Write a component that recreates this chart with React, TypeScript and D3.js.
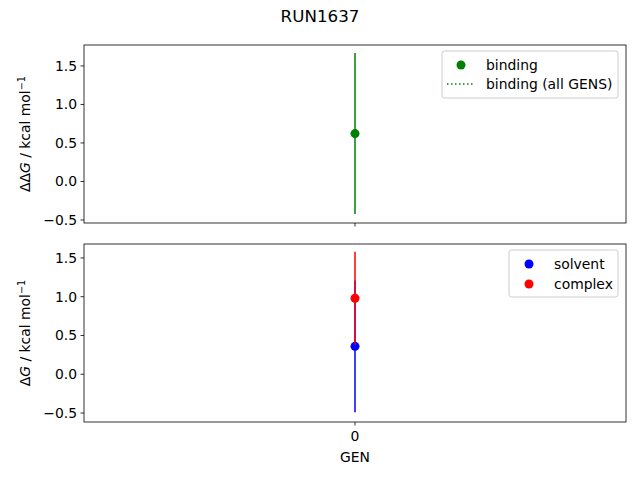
import { useEffect, useRef } from 'react';
import * as d3 from 'd3';

// values
const gens = ['0'];
const bindingValues = [0.622];
const bindingErrors = [1.045];
const solventValues = [0.36];
const solventErrors = [0.85];
const complexValues = [0.98];
const complexErrors = [0.6];
const yTicks = [-0.5, 0, 0.5, 1.0, 1.5];

const W = 640;
const H = 480;
const FONT = 'DejaVu Sans, sans-serif';
const FS = 13.9;

export default function App() {
  const svgRef = useRef<SVGSVGElement>(null);

  useEffect(() => {
    if (!svgRef.current) return;
    const svg = d3.select(svgRef.current);
    svg.selectAll('*').remove();
    svg.attr('width', W).attr('height', H).style('font-family', FONT);

    svg.append('rect').attr('width', W).attr('height', H).attr('fill', '#fff');

    const left = 84;
    const right = 626;

    const x = d3.scalePoint<string>().domain(gens).range([left, right]).padding(0.5);

    svg.append('text')
      .attr('x', W / 2).attr('y', 22)
      .attr('text-anchor', 'middle')
      .attr('font-size', 16.7)
      .text('RUN1637');

    const fmt = (v: number) => d3.format('.1f')(v).replace('-', '\u2212');

    function panel(top: number, bottom: number, domain: [number, number], label: string, showX: boolean) {
      const y = d3.scaleLinear().domain(domain).range([bottom, top]);
      const g = svg.append('g');

      // y ticks
      yTicks.forEach(t => {
        const yy = y(t);
        g.append('line').attr('x1', left - 3.5).attr('x2', left).attr('y1', yy).attr('y2', yy)
          .attr('stroke', '#000').attr('stroke-width', 0.8);
        g.append('text').attr('x', left - 7).attr('y', yy).attr('dy', '0.35em')
          .attr('text-anchor', 'end').attr('font-size', FS).text(fmt(t));
      });

      // x ticks
      gens.forEach(gn => {
        const xx = x(gn)!;
        g.append('line').attr('x1', xx).attr('x2', xx).attr('y1', bottom).attr('y2', bottom + 3.5)
          .attr('stroke', '#000').attr('stroke-width', 0.8);
        if (showX) {
          g.append('text').attr('x', xx).attr('y', bottom + 19)
            .attr('text-anchor', 'middle').attr('font-size', FS).text(gn);
        }
      });

      // y label
      const cy = (top + bottom) / 2;
      const lt = g.append('text')
        .attr('transform', `translate(${30},${cy}) rotate(-90)`)
        .attr('text-anchor', 'middle').attr('font-size', FS);
      lt.append('tspan').text(label);
      lt.append('tspan').attr('font-style', 'italic').text('G');
      lt.append('tspan').text(' / kcal mol');
      lt.append('tspan').attr('dy', -5).attr('font-size', FS * 0.7).text('\u22121');

      return { g, y };
    }

    // top panel
    const p1 = panel(45, 223, [-0.539, 1.772], '\u0394\u0394', false);
    gens.forEach((gn, i) => {
      const xx = x(gn)!;
      p1.g.append('line').attr('x1', xx).attr('x2', xx)
        .attr('y1', p1.y(bindingValues[i] - bindingErrors[i]))
        .attr('y2', p1.y(bindingValues[i] + bindingErrors[i]))
        .attr('stroke', 'green').attr('stroke-width', 1.5);
      p1.g.append('circle').attr('cx', xx).attr('cy', p1.y(bindingValues[i])).attr('r', 4.5).attr('fill', 'green');
    });
    svg.append('rect').attr('x', left).attr('y', 45).attr('width', right - left).attr('height', 178)
      .attr('fill', 'none').attr('stroke', '#000').attr('stroke-width', 0.8);

    // top legend
    const l1 = svg.append('g');
    l1.append('rect').attr('x', 442).attr('y', 51).attr('width', 176).attr('height', 47).attr('rx', 2.5)
      .attr('fill', '#fff').attr('fill-opacity', 0.8).attr('stroke', '#ccc').attr('stroke-width', 1);
    l1.append('circle').attr('cx', 461).attr('cy', 65).attr('r', 4.5).attr('fill', 'green');
    l1.append('text').attr('x', 486).attr('y', 65).attr('dy', '0.35em').attr('font-size', FS).text('binding');
    l1.append('line').attr('x1', 447).attr('x2', 475).attr('y1', 84).attr('y2', 84)
      .attr('stroke', 'green').attr('stroke-width', 1.5).attr('stroke-dasharray', '1.5,2.5');
    l1.append('text').attr('x', 486).attr('y', 84).attr('dy', '0.35em').attr('font-size', FS).text('binding (all GENS)');

    // bottom panel
    const p2 = panel(244, 422, [-0.616, 1.68], '\u0394', true);
    gens.forEach((gn, i) => {
      const xx = x(gn)!;
      p2.g.append('line').attr('x1', xx).attr('x2', xx)
        .attr('y1', p2.y(solventValues[i] - solventErrors[i]))
        .attr('y2', p2.y(solventValues[i] + solventErrors[i]))
        .attr('stroke', 'blue').attr('stroke-width', 1.5);
      p2.g.append('circle').attr('cx', xx).attr('cy', p2.y(solventValues[i])).attr('r', 4.5).attr('fill', 'blue');
      p2.g.append('line').attr('x1', xx).attr('x2', xx)
        .attr('y1', p2.y(complexValues[i] - complexErrors[i]))
        .attr('y2', p2.y(complexValues[i] + complexErrors[i]))
        .attr('stroke', 'red').attr('stroke-width', 1.5);
      p2.g.append('circle').attr('cx', xx).attr('cy', p2.y(complexValues[i])).attr('r', 4.5).attr('fill', 'red');
    });
    svg.append('rect').attr('x', left).attr('y', 244).attr('width', right - left).attr('height', 178)
      .attr('fill', 'none').attr('stroke', '#000').attr('stroke-width', 0.8);

    svg.append('text').attr('x', (left + right) / 2).attr('y', 462)
      .attr('text-anchor', 'middle').attr('font-size', FS).text('GEN');

    // bottom legend
    const l2 = svg.append('g');
    l2.append('rect').attr('x', 509).attr('y', 250).attr('width', 109).attr('height', 47).attr('rx', 2.5)
      .attr('fill', '#fff').attr('fill-opacity', 0.8).attr('stroke', '#ccc').attr('stroke-width', 1);
    l2.append('circle').attr('cx', 529).attr('cy', 264).attr('r', 4.5).attr('fill', 'blue');
    l2.append('text').attr('x', 554).attr('y', 264).attr('dy', '0.35em').attr('font-size', FS).text('solvent');
    l2.append('circle').attr('cx', 529).attr('cy', 284).attr('r', 4.5).attr('fill', 'red');
    l2.append('text').attr('x', 554).attr('y', 284).attr('dy', '0.35em').attr('font-size', FS).text('complex');
  }, []);

  return (
    <div style={{ position: 'absolute', left: 0, top: 0 }}>
      <svg ref={svgRef} style={{ display: 'block' }} />
    </div>
  );
}
